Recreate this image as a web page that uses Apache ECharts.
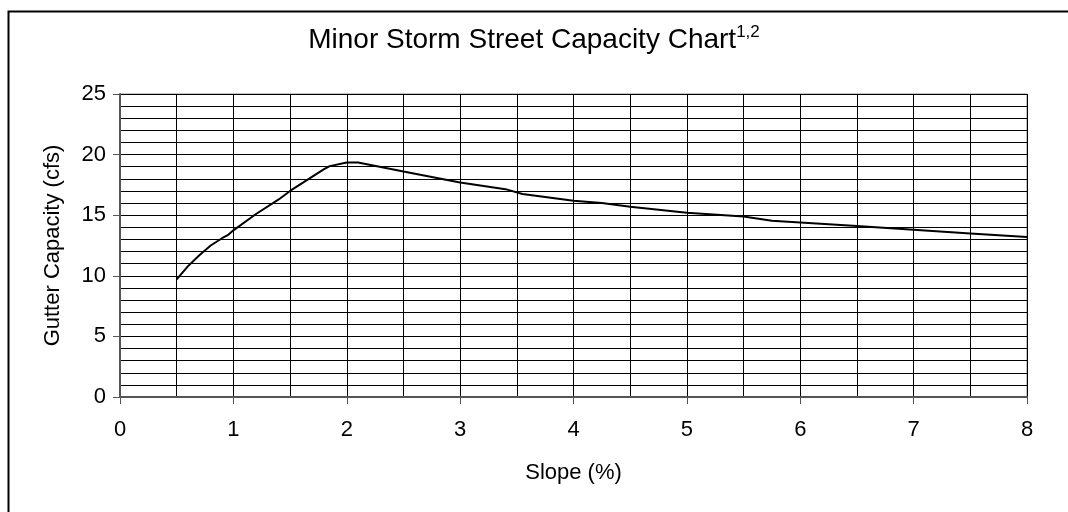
<!DOCTYPE html>
<html>
<head>
<meta charset="utf-8">
<script src="https://cdn.jsdelivr.net/npm/echarts@6/dist/echarts.min.js"></script>
<style>
  html, body { margin: 0; padding: 0; background: #fff; }
  #chart { width: 1068px; height: 512px; }
</style>
</head>
<body>
<div id="chart"></div>
<script>
// slope (%) and gutter capacity (cfs)
const slope = [0.5, 0.6, 0.7, 0.8, 0.9, 0.95, 1.0, 1.2, 1.4, 1.5, 1.7, 1.8, 1.85, 2.0, 2.1, 2.5, 3.0, 3.4, 3.55, 4.0, 4.25, 4.5, 4.75, 5.0, 5.5, 5.75, 6.0, 6.5, 7.0, 7.5, 8.0]
const capacity = [9.7, 10.8, 11.7, 12.5, 13.1, 13.35, 13.75, 15.1, 16.3, 17.0, 18.2, 18.8, 19.05, 19.35, 19.35, 18.6, 17.7, 17.15, 16.75, 16.2, 16.0, 15.7, 15.45, 15.2, 14.9, 14.55, 14.4, 14.1, 13.8, 13.5, 13.2]
const xTicks = [0, 1, 2, 3, 4, 5, 6, 7, 8]
const yTicks = [0, 5, 10, 15, 20, 25]

const points = slope.map((s, i) => [s, capacity[i]])
const font = '"Liberation Sans", Arial, sans-serif'

const myChart = echarts.init(document.getElementById('chart'))

const option = {
  animation: false,
  backgroundColor: '#fff',
  title: {
    text: '{a|Minor Storm Street Capacity Chart}{s|1,2}',
    left: 'center',
    top: 19,
    textStyle: {
      rich: {
        a: { fontFamily: font, fontSize: 28, fontWeight: 'normal', color: '#000', lineHeight: 33 },
        s: { fontFamily: font, fontSize: 17, fontWeight: 'normal', color: '#000', verticalAlign: 'top', lineHeight: 33 }
      }
    }
  },
  graphic: [
    {
      type: 'rect',
      left: 6,
      top: 9,
      shape: { width: 1100, height: 600 },
      style: { fill: 'none', stroke: '#000', lineWidth: 2 },
      silent: true
    }
  ],
  grid: {
    left: 120,
    right: 41,
    top: 94,
    bottom: 115,
    show: true,
    borderColor: '#888',
    borderWidth: 1
  },
  xAxis: {
    type: 'value',
    min: xTicks[0],
    max: xTicks[xTicks.length - 1],
    interval: 1,
    name: 'Slope (%)',
    nameLocation: 'middle',
    nameGap: 65,
    nameTextStyle: { fontFamily: font, fontSize: 22, color: '#000' },
    axisLine: { show: true, lineStyle: { color: '#555', width: 2 } },
    axisTick: { show: true, length: 7, lineStyle: { color: '#555' } },
    axisLabel: { fontFamily: font, fontSize: 22, color: '#000', margin: 22 },
    splitLine: { show: true, lineStyle: { color: '#000', width: 1 } },
    minorTick: { show: false, splitNumber: 2 },
    minorSplitLine: { show: true, lineStyle: { color: '#000', width: 1 } }
  },
  yAxis: {
    type: 'value',
    min: yTicks[0],
    max: yTicks[yTicks.length - 1],
    interval: 5,
    name: 'Gutter Capacity (cfs)',
    nameLocation: 'middle',
    nameGap: 56,
    nameTextStyle: { fontFamily: font, fontSize: 22, color: '#000' },
    axisLine: { show: true, lineStyle: { color: '#555', width: 2 } },
    axisTick: { show: true, length: 7, lineStyle: { color: '#555' } },
    axisLabel: { fontFamily: font, fontSize: 22, color: '#000', margin: 14 },
    splitLine: { show: true, lineStyle: { color: '#000', width: 1 } },
    minorTick: { show: false, splitNumber: 5 },
    minorSplitLine: { show: true, lineStyle: { color: '#000', width: 1 } }
  },
  series: [
    {
      name: 'Gutter Capacity',
      type: 'line',
      data: points,
      showSymbol: false,
      symbol: 'none',
      smooth: false,
      lineStyle: { color: '#000', width: 2 },
      z: 5
    }
  ]
}

myChart.setOption(option)
window.addEventListener('resize', () => {
  myChart.resize()
})
</script>
</body>
</html>
